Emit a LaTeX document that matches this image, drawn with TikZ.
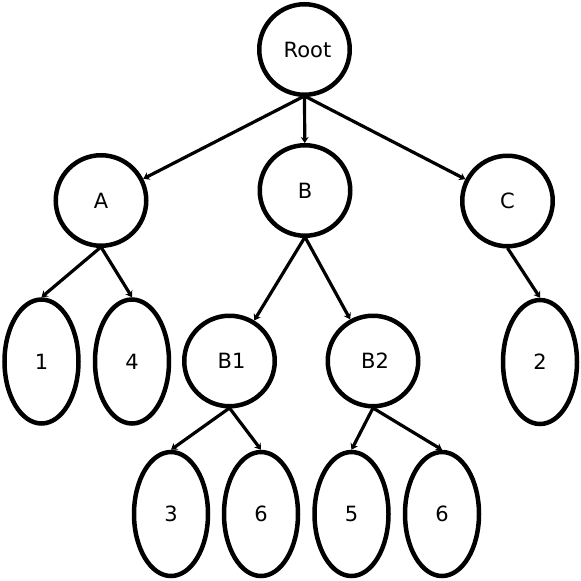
\documentclass[tikz,border=0pt]{standalone}
\usepackage{fontspec}
\setmainfont{DejaVu Sans}
\usetikzlibrary{shapes.geometric,arrows.meta}
\begin{document}
\begin{tikzpicture}[x=1pt,y=-1pt,
  round/.style={draw=black,line width=4.5pt,ellipse,inner sep=0pt,minimum width=90.5pt,minimum height=90.5pt,font=\fontsize{21}{24}\selectfont},
  tall/.style={draw=black,line width=4.5pt,ellipse,inner sep=0pt,minimum width=74pt,minimum height=124pt,font=\fontsize{21}{24}\selectfont},
  edge/.style={line width=3.2pt,-{Stealth[length=6pt,width=8pt]}}]
\useasboundingbox (0,0) rectangle (581,581);
\node[round] (root) at (304.5,49.5) {\hspace*{6pt}Root};
\node[round] (A) at (101,200.5) {A};
\node[round] (B) at (305,190.5) {B};
\node[round] (C) at (507.5,201) {C};
\node[tall] (n1) at (41.5,361.5) {1};
\node[tall] (n4) at (132,361.5) {4};
\node[round] (B1) at (229.5,361) {\hspace*{4pt}B1};
\node[round] (B2) at (373,361) {\hspace*{4pt}B2};
\node[tall] (n2) at (540,362) {2};
\node[tall] (n3) at (171,514) {3};
\node[tall] (n6a) at (261,514) {6};
\node[tall] (n5) at (351.5,514) {5};
\node[tall] (n6b) at (442,514) {6};
\coordinate (rs) at (304.5,96);
\coordinate (as) at (101,247);
\coordinate (bs) at (305,237);
\coordinate (cs) at (507.5,248);
\coordinate (b1s) at (229.5,408);
\coordinate (b2s) at (373,408);
\draw[edge] (rs) -- (A);
\draw[edge] (rs) -- (B);
\draw[edge] (rs) -- (C);
\draw[edge] (as) -- (n1.north);
\draw[edge] (as) -- (n4.north);
\draw[edge] (bs) -- (B1);
\draw[edge] (bs) -- (B2);
\draw[edge] (cs) -- (n2.north);
\draw[edge] (b1s) -- (n3.north);
\draw[edge] (b1s) -- (n6a.north);
\draw[edge] (b2s) -- (n5.north);
\draw[edge] (b2s) -- (n6b.north);
\end{tikzpicture}
\end{document}
